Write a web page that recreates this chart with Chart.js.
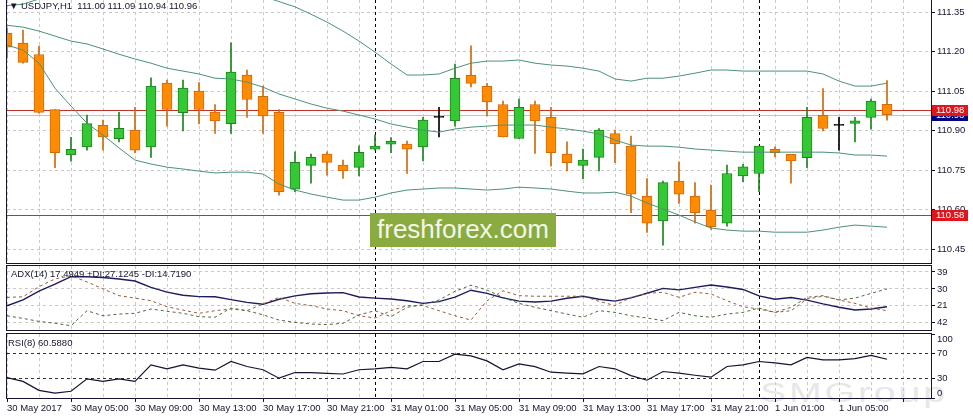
<!DOCTYPE html>
<html>
<head>
<meta charset="utf-8">
<title>USDJPY,H1</title>
<script src="https://cdn.jsdelivr.net/npm/chart.js@4.4.1/dist/chart.umd.min.js"></script>
<style>
  body { margin: 0; background: #fff; }
  #wrap { position: relative; width: 973px; height: 419px; overflow: hidden; font-family: "Liberation Sans", Arial, sans-serif; color: #15152f; }
  canvas { position: absolute; left: 0; z-index: 1; }
  #main { top: 0; }
  #adx { top: 264px; }
  #rsi { top: 332px; }
  .txt { position: absolute; z-index: 2; font-size: 9.5px; line-height: 12px; white-space: pre; }
  #brand { position: absolute; z-index: 3; left: 370px; top: 213px; width: 186px; height: 34px; background: #8aab3f; color: #f4f6e9; font-size: 26px; line-height: 33px; text-align: center; }
  #wm { position: absolute; z-index: 0; left: 760px; top: 378px; font-size: 27px; letter-spacing: 2px; color: #e7e7e7; transform: scaleX(1.45); transform-origin: left top; }
</style>
</head>
<body>
<div id="wrap">
  <div id="wm">SMGroup</div>
  <canvas id="main" width="973" height="264"></canvas>
  <canvas id="adx" width="973" height="68"></canvas>
  <canvas id="rsi" width="973" height="87"></canvas>
  <div class="txt" style="left:9px;top:0;font-size:9.5px">▼</div>
  <div class="txt" id="head" style="left:21px;top:0"></div>
  <div class="txt" style="left:11px;top:268px">ADX(14) 17.4949 +DI:27.1245 -DI:14.7190</div>
  <div class="txt" style="left:8px;top:337px">RSI(8) 60.5880</div>
  <div id="brand">freshforex.com</div>
</div>
<script>
// one label every 4 hourly bars, first bar is 30 May 01:00
const xLabels = ["30 May 2017", "30 May 05:00", "30 May 09:00", "30 May 13:00", "30 May 17:00", "30 May 21:00",
  "31 May 01:00", "31 May 05:00", "31 May 09:00", "31 May 13:00", "31 May 17:00", "31 May 21:00",
  "1 Jun 01:00", "1 Jun 05:00"];

const opens = [111.270, 111.231, 111.189, 110.980, 110.808, 110.838, 110.920, 110.869, 110.902, 110.838,
  111.080, 110.968, 111.050, 110.970, 110.926, 111.111, 111.030, 110.969, 110.677, 110.768,
  110.811, 110.769, 110.760, 110.829, 110.848, 110.849, 110.838, 110.950, 110.937, 111.110,
  111.068, 110.999, 110.870, 110.999, 110.950, 110.811, 110.768, 110.798, 110.889, 110.841,
  110.651, 110.557, 110.708, 110.651, 110.598, 110.548, 110.728, 110.737, 110.829, 110.810,
  110.797, 110.958, 110.920, 110.927, 110.950, 111.000];
const highs = [111.290, 111.282, 111.221, 110.980, 110.874, 110.959, 110.940, 110.969, 110.988, 111.100,
  111.092, 111.092, 111.082, 110.999, 111.233, 111.130, 111.069, 110.980, 110.819, 110.811,
  110.819, 110.788, 110.842, 110.883, 110.873, 110.860, 110.950, 110.988, 111.153, 111.222,
  111.079, 111.012, 111.020, 111.012, 110.988, 110.857, 110.830, 110.908, 110.902, 110.879,
  110.718, 110.708, 110.781, 110.702, 110.693, 110.769, 110.772, 110.841, 110.838, 110.810,
  110.988, 111.060, 110.950, 110.950, 111.020, 111.090];
const lows = [111.175, 111.156, 110.966, 110.759, 110.784, 110.826, 110.826, 110.857, 110.816, 110.798,
  110.917, 110.899, 110.925, 110.889, 110.889, 110.950, 110.889, 110.655, 110.668, 110.700,
  110.731, 110.718, 110.728, 110.826, 110.816, 110.737, 110.785, 110.876, 110.917, 111.066,
  110.956, 110.876, 110.870, 110.813, 110.765, 110.747, 110.716, 110.747, 110.778, 110.588,
  110.513, 110.465, 110.623, 110.548, 110.525, 110.537, 110.706, 110.668, 110.800, 110.700,
  110.759, 110.899, 110.826, 110.857, 110.905, 110.940];
const closes = [111.217, 111.159, 110.969, 110.816, 110.829, 110.927, 110.876, 110.909, 110.826, 111.069,
  110.980, 111.061, 110.980, 110.937, 111.122, 111.018, 110.956, 110.668, 110.779, 110.798,
  110.779, 110.747, 110.817, 110.841, 110.859, 110.829, 110.940, 110.950, 111.098, 111.079,
  111.009, 110.876, 110.988, 110.937, 110.816, 110.778, 110.788, 110.902, 110.849, 110.658,
  110.548, 110.702, 110.658, 110.588, 110.535, 110.737, 110.762, 110.841, 110.816, 110.785,
  110.950, 110.908, 110.920, 110.937, 111.012, 110.960];

// bollinger bands
const bbUpper = [111.375, 111.380, 111.400, 111.457, 111.487, 111.530, 111.537, 111.546, 111.556, 111.539,
  111.513, 111.498, 111.484, 111.459, 111.450, 111.430, 111.410, 111.390, 111.370, 111.342,
  111.312, 111.278, 111.240, 111.198, 111.153, 111.111, 111.111, 111.115, 111.137, 111.156,
  111.164, 111.164, 111.168, 111.156, 111.149, 111.145, 111.137, 111.126, 111.096, 111.088,
  111.099, 111.099, 111.107, 111.118, 111.130, 111.130, 111.126, 111.126, 111.126, 111.126,
  111.126, 111.115, 111.088, 111.069, 111.069, 111.080];
const bbMiddle = [111.300, 111.293, 111.278, 111.259, 111.240, 111.229, 111.210, 111.190, 111.172, 111.156,
  111.137, 111.126, 111.115, 111.099, 111.096, 111.084, 111.065, 111.039, 111.020, 111.001,
  110.985, 110.974, 110.959, 110.944, 110.925, 110.913, 110.902, 110.894, 110.906, 110.913,
  110.917, 110.921, 110.921, 110.921, 110.913, 110.906, 110.898, 110.887, 110.864, 110.845,
  110.841, 110.841, 110.837, 110.830, 110.826, 110.822, 110.818, 110.818, 110.818, 110.818,
  110.818, 110.818, 110.815, 110.807, 110.807, 110.803];
const bbLower = [111.225, 111.206, 111.156, 111.061, 110.993, 110.928, 110.883, 110.834, 110.788, 110.773,
  110.761, 110.754, 110.746, 110.739, 110.742, 110.742, 110.735, 110.697, 110.674, 110.659,
  110.647, 110.636, 110.636, 110.647, 110.663, 110.674, 110.678, 110.682, 110.682, 110.678,
  110.674, 110.678, 110.685, 110.682, 110.678, 110.670, 110.663, 110.663, 110.666, 110.651,
  110.625, 110.602, 110.579, 110.553, 110.530, 110.522, 110.518, 110.518, 110.514, 110.514,
  110.514, 110.522, 110.533, 110.541, 110.537, 110.533];

const adx = [21.0, 24.2, 28.8, 32.5, 36.5, 36.5, 36.1, 35.3, 34.2, 30.8,
  28.3, 26.6, 25.9, 25.8, 24.3, 22.8, 21.8, 24.5, 26.3, 27.4,
  27.8, 28.0, 25.7, 25.1, 24.6, 23.7, 22.3, 23.2, 25.6, 29.3,
  27.6, 25.2, 23.5, 23.0, 23.5, 25.0, 26.1, 24.5, 23.5, 25.2,
  27.7, 30.3, 29.5, 30.8, 32.1, 31.0, 29.7, 26.3, 24.5, 25.4,
  24.0, 22.0, 20.2, 18.8, 19.3, 20.5];
const plusDI = [15.7, 14.3, 12.7, 11.7, 10.4, 18.4, 15.7, 16.6, 17.0, 19.3,
  18.1, 17.0, 15.2, 14.9, 19.8, 18.4, 16.2, 13.4, 12.2, 11.3,
  11.0, 11.7, 16.2, 18.4, 15.2, 20.2, 21.6, 24.1, 28.7, 32.0,
  29.4, 25.5, 22.3, 20.2, 18.4, 16.6, 14.9, 18.4, 17.5, 15.7,
  14.5, 13.1, 17.5, 15.7, 14.9, 16.6, 17.5, 19.8, 17.5, 20.2,
  25.5, 26.4, 24.1, 25.1, 27.6, 30.0];
const minusDI = [25.5, 25.8, 31.2, 35.3, 37.0, 33.7, 30.0, 26.4, 25.1, 23.7,
  20.5, 18.7, 17.0, 18.4, 19.3, 18.4, 22.0, 25.5, 22.3, 21.1,
  19.3, 18.4, 15.7, 14.5, 18.4, 21.1, 21.1, 18.4, 15.7, 13.4,
  23.7, 29.0, 26.4, 26.1, 26.1, 26.1, 26.1, 23.4, 21.1, 25.5,
  27.6, 28.2, 25.5, 28.2, 27.3, 23.7, 20.5, 19.3, 17.5, 18.4,
  24.6, 26.1, 24.1, 22.3, 19.8, 18.4];
const rsi = [32.0, 26.0, 12.0, 7.5, 10.5, 30.0, 26.0, 30.0, 26.0, 51.8,
  45.6, 51.8, 46.8, 43.5, 57.0, 49.2, 44.1, 31.0, 39.8, 39.8,
  38.5, 37.5, 44.1, 45.6, 47.7, 45.6, 57.0, 57.0, 68.4, 65.9,
  58.0, 44.1, 53.4, 49.0, 40.3, 39.0, 37.8, 49.2, 45.6, 35.0,
  27.8, 41.4, 38.8, 35.5, 32.5, 49.2, 51.8, 57.0, 55.0, 51.8,
  63.3, 59.7, 59.7, 61.5, 66.5, 60.6];

const priceTicks = [111.35, 111.20, 111.05, 110.90, 110.75, 110.60, 110.45];
const adxTicks = [12, 21, 30, 39];
const adxTickLabels = ["42", "21", "30", "39"];
const rsiTicks = [0, 30, 70, 100];
const rsiLevels = [30, 70];
const lineLevels = [110.98, 110.58];
const separators = [23, 47];   // 31 May 00:00 and 1 Jun 00:00

const INK = '#15152f';
const GRID = '#c9c9c9';
const BAND = '#4d917a';
const FONT = '"Liberation Sans", Arial, sans-serif';

Chart.defaults.font.family = FONT;
Chart.defaults.font.size = 9.5;
Chart.defaults.color = INK;

const n = opens.length;
const idx = opens.map((_, i) => i);
const pts = arr => arr.map((v, i) => ({ x: i, y: v }));

document.getElementById('head').textContent =
  'USDJPY,H1  ' + [opens[n - 1], highs[n - 1], lows[n - 1], closes[n - 1]].map(v => v.toFixed(2)).join(' ');

function xAxis(withLabels) {
  return {
    type: 'linear', min: 0, max: 57.75, offset: false,
    afterBuildTicks: s => {
      s.ticks = [];
      for (let v = 0; v <= 56; v += 2) s.ticks.push({ value: v });
    },
    afterFit: s => { s.paddingLeft = 0; s.paddingRight = 0; s.height = withLabels ? 21 : 0; },
    grid: {
      color: GRID, offset: false, drawTicks: withLabels, tickLength: 4, tickBorderDash: [],
      tickColor: c => (c.tick && c.tick.value % 4 === 0) ? INK : 'transparent'
    },
    border: { display: false, dash: [3, 3] },
    ticks: {
      display: withLabels, autoSkip: false, maxRotation: 0, align: 'start', padding: 1, color: INK,
      callback: v => v % 4 === 0 ? (xLabels[v / 4] || '') : ''
    }
  };
}

function yAxis(min, max, ticks, labelOf, gridColor, showLabels) {
  return {
    position: 'right', min: min, max: max,
    afterBuildTicks: s => { s.ticks = ticks.map(v => ({ value: v })); },
    afterFit: s => { s.width = 42; s.paddingTop = 0; s.paddingBottom = 0; },
    grid: { color: gridColor || GRID, tickLength: 4, tickColor: INK, tickBorderDash: [] },
    border: { display: false, dash: [3, 3] },
    ticks: { display: showLabels !== false, autoSkip: false, padding: 2, color: INK, callback: labelOf }
  };
}

// dark frame around each pane
const framePlugin = {
  id: 'frame',
  afterDraw(chart) {
    const { ctx, chartArea: a } = chart;
    ctx.save();
    ctx.strokeStyle = INK;
    ctx.lineWidth = 1;
    ctx.strokeRect(a.left - 0.5, a.top - 0.5, a.right - a.left + 1, a.bottom - a.top + 1);
    ctx.restore();
  }
};

// day separators
const sepPlugin = {
  id: 'sep',
  beforeDatasetsDraw(chart) {
    const { ctx, chartArea: a, scales: { x } } = chart;
    ctx.save();
    ctx.strokeStyle = '#000';
    ctx.lineWidth = 1;
    ctx.setLineDash([3, 3]);
    separators.forEach(i => {
      const px = Math.round(x.getPixelForValue(i)) + 0.5;
      ctx.beginPath();
      ctx.moveTo(px, a.top);
      ctx.lineTo(px, a.bottom);
      ctx.stroke();
    });
    ctx.restore();
  }
};

// bid line and horizontal levels behind the candles, price tags on the scale
const levelsPlugin = {
  id: 'levels',
  beforeDatasetsDraw(chart) {
    const { ctx, chartArea: a, scales: { y } } = chart;
    const hline = (v, color) => {
      const py = Math.round(y.getPixelForValue(v)) + 0.5;
      ctx.strokeStyle = color;
      ctx.beginPath();
      ctx.moveTo(a.left, py);
      ctx.lineTo(a.right, py);
      ctx.stroke();
    };
    ctx.save();
    ctx.lineWidth = 1;
    hline(closes[n - 1], '#c2c2c2');
    lineLevels.forEach(v => hline(v, '#c0332a'));
    ctx.restore();
  },
  afterDraw(chart) {
    const { ctx, chartArea: a, scales: { y } } = chart;
    const tag = (v, bg) => {
      const py = Math.round(y.getPixelForValue(v));
      ctx.fillStyle = bg;
      ctx.fillRect(a.right + 1, py - 5, 36, 11);
      ctx.fillStyle = '#fff';
      ctx.fillText(v.toFixed(2), a.right + 5, py + 0.5);
    };
    ctx.save();
    ctx.font = '9.5px ' + FONT;
    ctx.textBaseline = 'middle';
    ctx.textAlign = 'left';
    tag(closes[n - 1], '#000080');
    lineLevels.forEach(v => tag(v, '#e3151c'));
    ctx.restore();
  }
};

// RSI scale labels: the 100 and 0 labels sit inside the pane, like the terminal does
const rsiLabels = {
  id: 'rsiLabels',
  afterDraw(chart) {
    const { ctx, chartArea: a, scales: { y } } = chart;
    ctx.save();
    ctx.font = '9.5px ' + FONT;
    ctx.fillStyle = INK;
    ctx.textAlign = 'left';
    rsiTicks.forEach(v => {
      ctx.textBaseline = v === y.max ? 'top' : v === y.min ? 'bottom' : 'middle';
      ctx.fillText(String(v), a.right + 6, y.getPixelForValue(v) + (v === y.max ? 1 : 0));
    });
    ctx.restore();
  }
};

const fillOf = i => closes[i] > opens[i] ? '#34c934' : closes[i] < opens[i] ? '#ff8c00' : '#000';
const edgeOf = i => closes[i] > opens[i] ? '#1e851e' : closes[i] < opens[i] ? '#cf6a0d' : '#000';

const base = {
  responsive: false, animation: false, devicePixelRatio: 1, events: [],
  plugins: { legend: { display: false }, tooltip: { enabled: false } }
};
const bandLine = (arr) => ({ type: 'line', data: pts(arr), borderColor: BAND, borderWidth: 1, pointRadius: 0, tension: 0, order: 1 });

new Chart(document.getElementById('main'), {
  type: 'bar',
  data: {
    datasets: [
      bandLine(bbUpper),
      bandLine(bbMiddle),
      bandLine(bbLower),
      {
        data: idx.map(i => ({ x: i, y: [lows[i], highs[i]] })),
        backgroundColor: idx.map(edgeOf), barThickness: 1, grouped: false, order: 3
      },
      {
        data: idx.map(i => ({ x: i, y: [opens[i], closes[i]] })),
        backgroundColor: idx.map(fillOf), borderColor: idx.map(edgeOf), borderWidth: 1,
        borderSkipped: false, barThickness: 10, minBarLength: 1, grouped: false, order: 2
      }
    ]
  },
  options: Object.assign({}, base, {
    layout: { padding: { left: 7, top: 0, right: 0, bottom: 1 } },
    scales: { x: xAxis(false), y: yAxis(110.397, 111.396, priceTicks, v => v.toFixed(2)) }
  }),
  plugins: [sepPlugin, levelsPlugin, framePlugin]
});

new Chart(document.getElementById('adx'), {
  type: 'line',
  data: {
    datasets: [
      { data: pts(plusDI), borderColor: '#4c6a38', borderWidth: 1, borderDash: [3, 3], pointRadius: 0 },
      { data: pts(minusDI), borderColor: '#9c5a3a', borderWidth: 1, borderDash: [3, 3], pointRadius: 0 },
      { data: pts(adx), borderColor: '#1c1c5e', borderWidth: 1.4, pointRadius: 0 }
    ]
  },
  options: Object.assign({}, base, {
    layout: { padding: { left: 7, top: 2, right: 0, bottom: 2 } },
    scales: { x: xAxis(false), y: yAxis(8.12, 42.19, adxTicks, v => adxTickLabels[adxTicks.indexOf(v)]) }
  }),
  plugins: [sepPlugin, framePlugin]
});

new Chart(document.getElementById('rsi'), {
  type: 'line',
  data: {
    datasets: [
      { data: pts(rsi), borderColor: '#141432', borderWidth: 1.2, pointRadius: 0 }
    ]
  },
  options: Object.assign({}, base, {
    layout: { padding: { left: 7, top: 2, right: 0, bottom: 0 } },
    scales: {
      x: xAxis(true),
      y: yAxis(0, 100, rsiTicks, v => String(v),
        c => (c.tick && rsiLevels.includes(c.tick.value)) ? '#333' : 'transparent', false)
    }
  }),
  plugins: [sepPlugin, framePlugin, rsiLabels]
});
</script>
</body>
</html>
